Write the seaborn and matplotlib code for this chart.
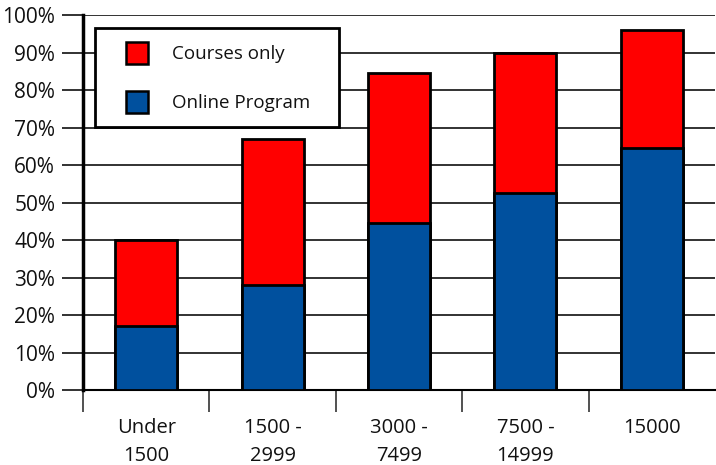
import matplotlib
matplotlib.use("Agg")
import matplotlib.pyplot as plt
import seaborn as sns
import pandas as pd
import numpy as np
from matplotlib.patches import Patch, Rectangle
from matplotlib.legend_handler import HandlerPatch

categories = ["Under\n1500", "1500 -\n2999", "3000 -\n7499", "7500 -\n14999", "15000"]
online_program = [17, 28, 44.5, 52.5, 64.5]
courses_only = [23, 39, 40, 37.5, 31.5]
total = [a + b for a, b in zip(online_program, courses_only)]

RED = "#ff0000"
BLUE = "#00509e"

sns.set_theme(style="white")
plt.rcParams['font.family'] = ['Open Sans', 'DejaVu Sans']

df = pd.DataFrame({"cat": categories, "online": online_program, "total": total})

fig = plt.figure(figsize=(7.16, 4.65), dpi=100)
ax = fig.add_axes([83/716, 75/465, (715-83)/716, (390-15)/465])

sns.barplot(data=df, x="cat", y="total", color=RED, width=0.49, ax=ax,
            edgecolor="black", linewidth=2, saturation=1, zorder=3)
sns.barplot(data=df, x="cat", y="online", color=BLUE, width=0.49, ax=ax,
            edgecolor="black", linewidth=2, saturation=1, zorder=4)

ax.set_ylim(0, 100)
ax.set_xlim(-0.5, 4.5)
ax.set_yticks(np.arange(0, 101, 10))
ax.set_yticklabels([f"{v}%" for v in range(0, 101, 10)], fontsize=15, color="#111111")
ax.yaxis.grid(True, color="#222222", linewidth=1.3, zorder=0)
ax.set_axisbelow(True)
ax.set_xlabel("")
ax.set_ylabel("")

ax.set_xticks(range(len(categories)))
ax.set_xticklabels(categories, fontsize=14.5, color="#111111", linespacing=1.55)
ax.tick_params(axis="x", which="major", length=0, pad=20)
ax.set_xticks(np.arange(-0.5, 4.5, 1), minor=True)
ax.tick_params(axis="x", which="minor", length=16, width=1.2, color="#333333", direction="out", bottom=True)
ax.tick_params(axis="y", which="major", length=15, width=1.3, color="#222222", direction="out", left=True, pad=5)

for s in ["top", "right"]:
    ax.spines[s].set_visible(False)
ax.spines["left"].set_linewidth(2.5)
ax.spines["left"].set_color("black")
ax.spines["bottom"].set_linewidth(1.5)
ax.spines["bottom"].set_color("black")


class SquareHandler(HandlerPatch):
    def create_artists(self, legend, orig_handle, xdescent, ydescent, width, height, fontsize, trans):
        s = height
        r = Rectangle((-xdescent + width - s, -ydescent), s, s,
                      facecolor=orig_handle.get_facecolor(), edgecolor="black",
                      linewidth=1.8, transform=trans)
        return [r]


handles = [Patch(facecolor=RED, edgecolor="black", label="Courses only   "),
           Patch(facecolor=BLUE, edgecolor="black", label="Online Program   ")]
leg = ax.legend(handles=handles, loc="upper left", bbox_to_anchor=(12/632, 1 - 13/375),
                fontsize=13.5, frameon=True, fancybox=False, handlelength=2.1, handleheight=1.45,
                handletextpad=1.3, labelspacing=1.45, borderpad=0.72, borderaxespad=0,
                edgecolor="black", facecolor="white", framealpha=1,
                handler_map={Patch: SquareHandler()})
leg.get_frame().set_linewidth(2)
leg.set_zorder(10)
for t in leg.get_texts():
    t.set_color("#111111")

fig.savefig("out.png", dpi=100)
